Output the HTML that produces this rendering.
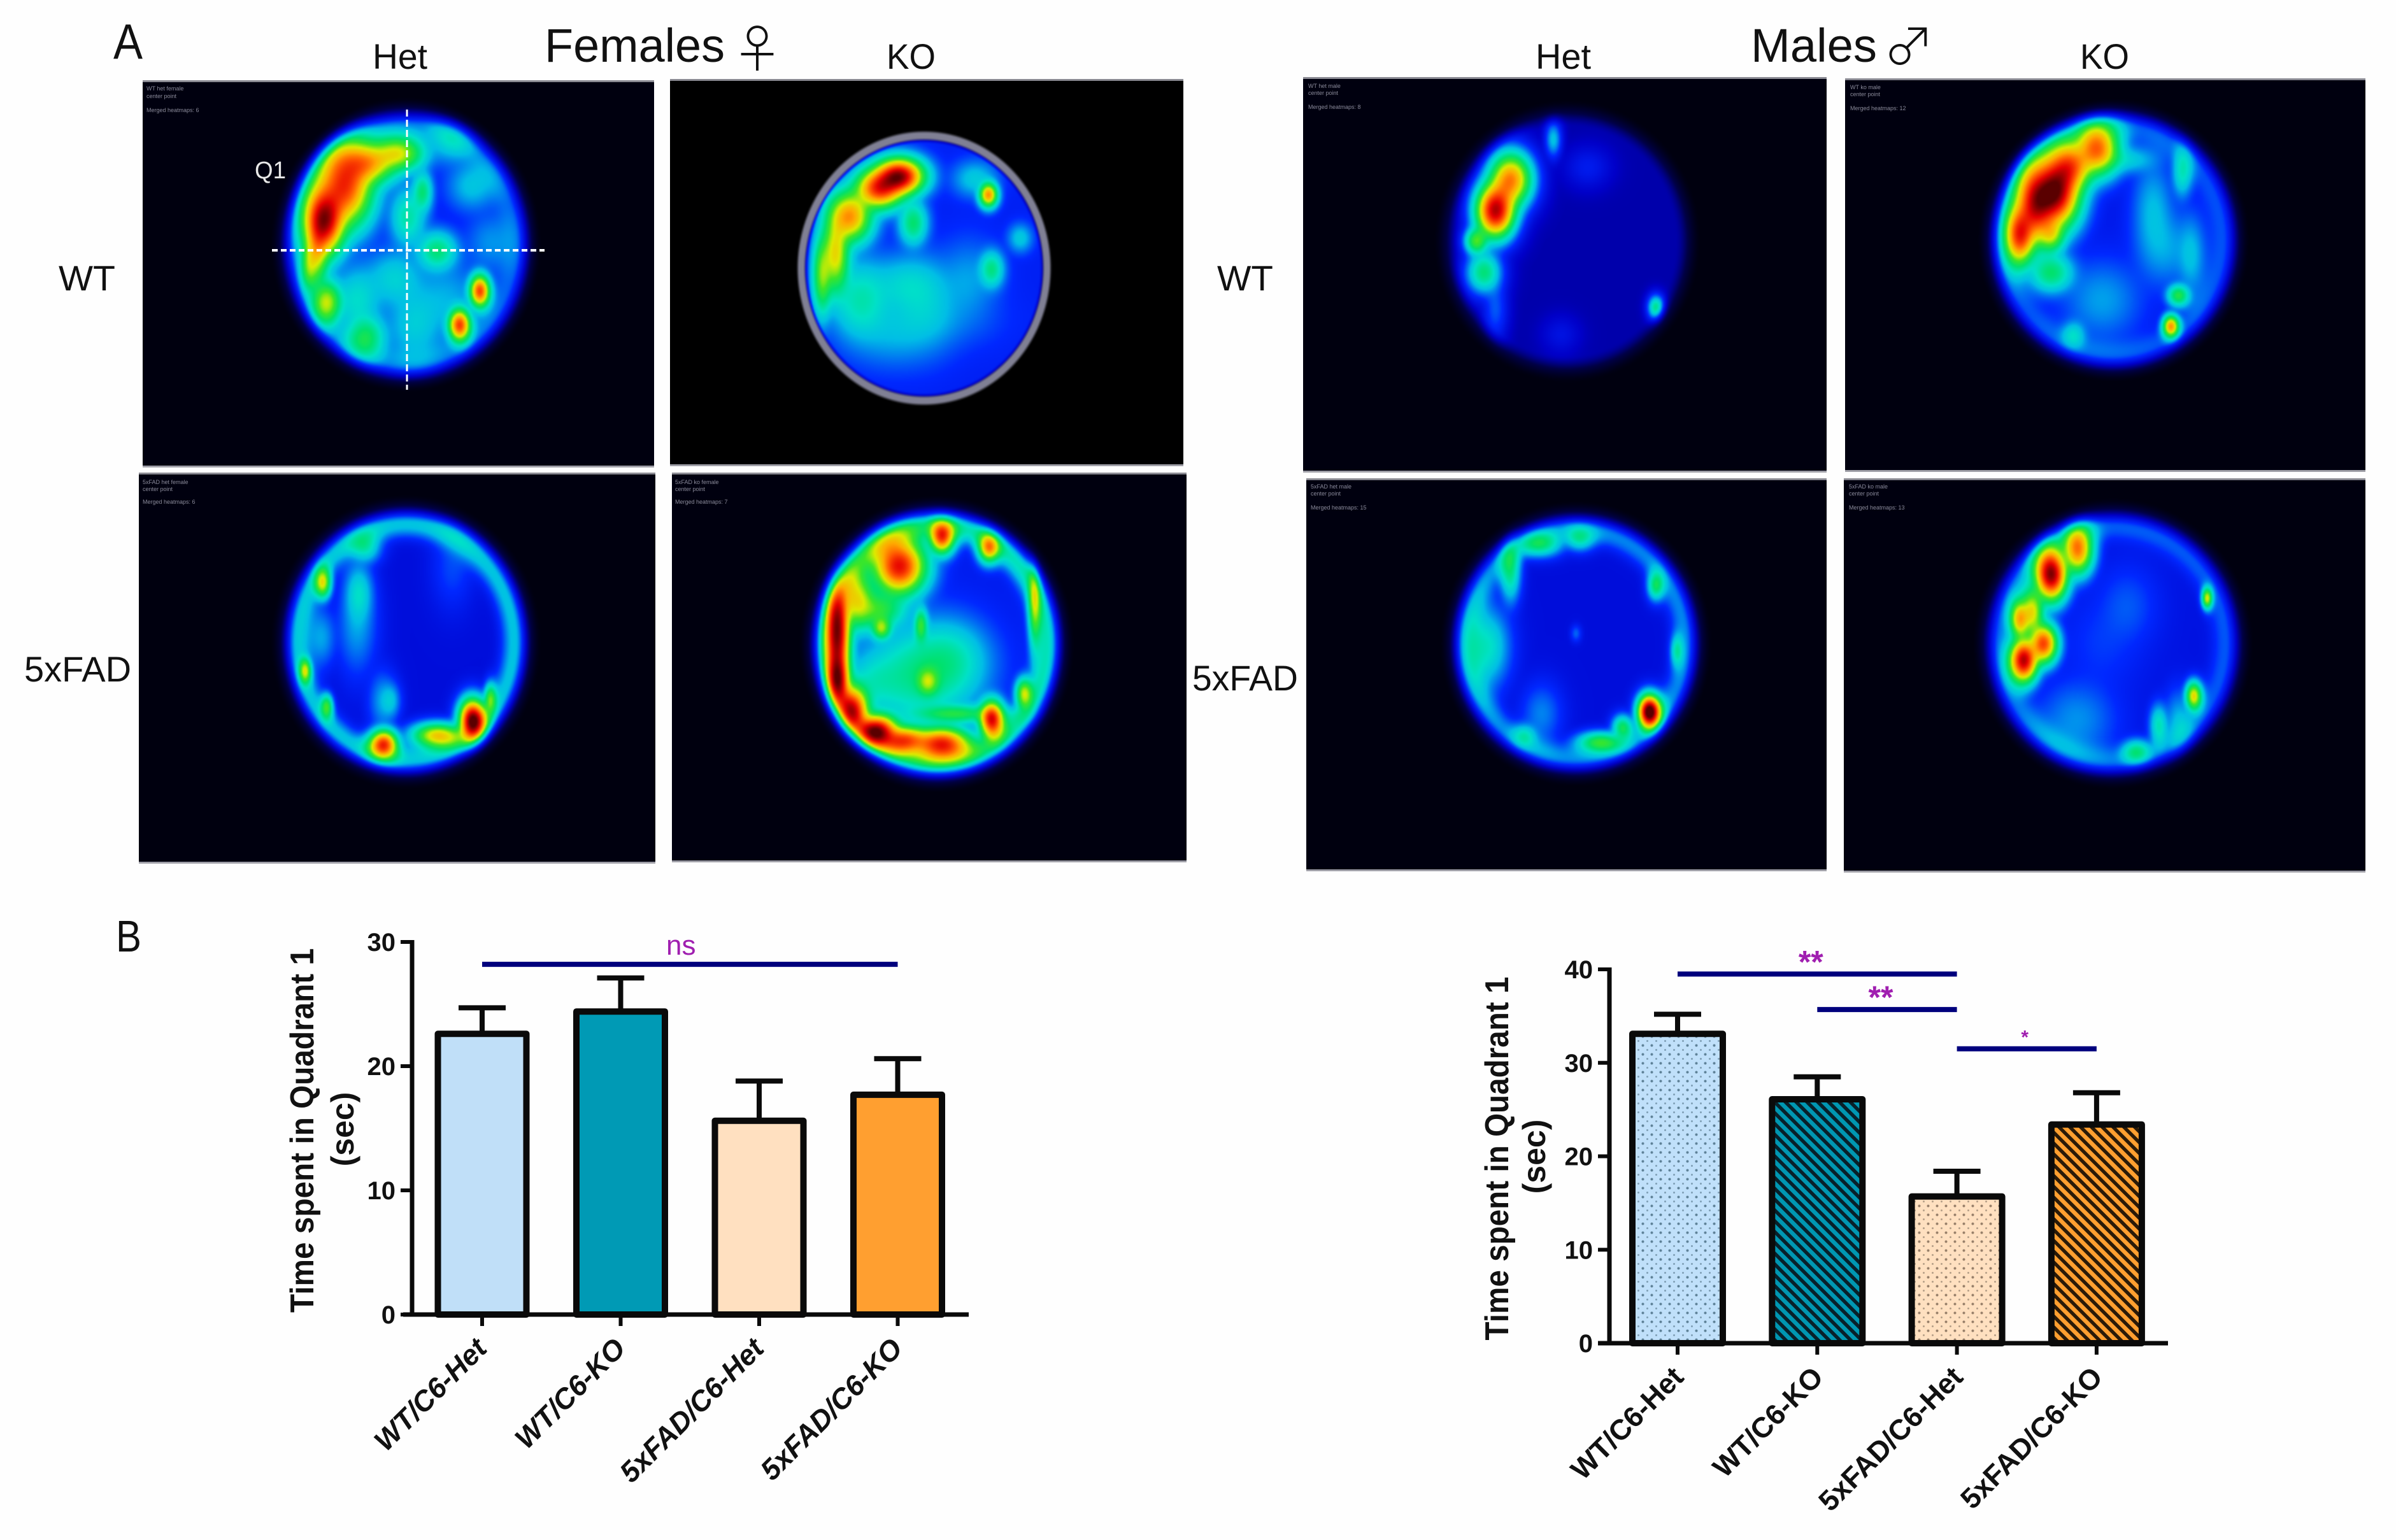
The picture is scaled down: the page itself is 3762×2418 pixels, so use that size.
<!DOCTYPE html>
<html lang="en">
<head>
<meta charset="utf-8">
<title>Heatmaps and time spent in Quadrant 1</title>
<style>
html,body{margin:0;padding:0;background:#fff;}
#page{position:relative;width:3762px;height:2418px;overflow:hidden;background:#fefefe;font-family:"Liberation Sans",sans-serif;}
canvas{position:absolute;display:block;}
#overlay{position:absolute;left:0;top:0;}
.lbl{font-family:"Liberation Sans",sans-serif;fill:#111;}
.tiny{font-family:"Liberation Sans",sans-serif;font-size:9px;fill:#8a8a9a;}
</style>
</head>
<body>
<div id="page">
<canvas id="p1"></canvas>
<canvas id="p2"></canvas>
<canvas id="p3"></canvas>
<canvas id="p4"></canvas>
<canvas id="p5"></canvas>
<canvas id="p6"></canvas>
<canvas id="p7"></canvas>
<canvas id="p8"></canvas>

<svg id="overlay" width="3762" height="2418" viewBox="0 0 3762 2418" xmlns="http://www.w3.org/2000/svg">
<defs>
<pattern id="dotsBlue" width="14" height="14" patternUnits="userSpaceOnUse"><rect width="14" height="14" fill="#c0e0fa"/><circle cx="3.5" cy="3.5" r="2" fill="#5f8298"/><circle cx="10.5" cy="10.5" r="1.5" fill="#7f9fb5"/></pattern>
<pattern id="dotsPeach" width="14" height="14" patternUnits="userSpaceOnUse"><rect width="14" height="14" fill="#ffe0c0"/><circle cx="3.5" cy="3.5" r="2" fill="#98806a"/><circle cx="10.5" cy="10.5" r="1.5" fill="#b59f88"/></pattern>
<pattern id="hatchTeal" width="12" height="12" patternUnits="userSpaceOnUse" patternTransform="rotate(-45)"><rect width="12" height="12" fill="#0097b2"/><rect width="5.5" height="12" fill="#08202a"/></pattern>
<pattern id="hatchOrange" width="12" height="12" patternUnits="userSpaceOnUse" patternTransform="rotate(-45)"><rect width="12" height="12" fill="#ff9f30"/><rect width="5.5" height="12" fill="#2a1a08"/></pattern>
</defs>

<text class="lbl" x="178" y="92" font-size="78" textLength="46" lengthAdjust="spacingAndGlyphs">A</text>
<text class="lbl" x="182" y="1494" font-size="70" textLength="40" lengthAdjust="spacingAndGlyphs">B</text>

<text class="lbl" x="855" y="97" font-size="74" textLength="283" lengthAdjust="spacingAndGlyphs">Females</text>
<text class="lbl" x="1189" y="106" font-size="80" text-anchor="middle" style="font-family:'Noto Sans CJK JP',sans-serif;font-weight:300">♀</text>
<text class="lbl" x="2749" y="97" font-size="74" textLength="198" lengthAdjust="spacingAndGlyphs">Males</text>
<text class="lbl" x="2997" y="102" font-size="80" text-anchor="middle" style="font-family:'Noto Sans CJK JP',sans-serif;font-weight:300">♂</text>

<text class="lbl" x="585" y="108" font-size="56" textLength="86" lengthAdjust="spacingAndGlyphs">Het</text>
<text class="lbl" x="1392" y="108" font-size="56" textLength="77" lengthAdjust="spacingAndGlyphs">KO</text>
<text class="lbl" x="2411" y="108" font-size="56" textLength="87" lengthAdjust="spacingAndGlyphs">Het</text>
<text class="lbl" x="3266" y="108" font-size="56" textLength="77" lengthAdjust="spacingAndGlyphs">KO</text>

<text class="lbl" x="92" y="456" font-size="56" textLength="89" lengthAdjust="spacingAndGlyphs">WT</text>
<text class="lbl" x="38" y="1070" font-size="56" textLength="168" lengthAdjust="spacingAndGlyphs">5xFAD</text>
<text class="lbl" x="1911" y="456" font-size="56" textLength="88" lengthAdjust="spacingAndGlyphs">WT</text>
<text class="lbl" x="1872" y="1084" font-size="56" textLength="166" lengthAdjust="spacingAndGlyphs">5xFAD</text>

<text x="400" y="280" font-size="38" fill="#e8e8e8" font-family="Liberation Sans, sans-serif" textLength="49" lengthAdjust="spacingAndGlyphs">Q1</text>
<line x1="427" y1="393" x2="855" y2="393" stroke="#fff" stroke-width="4" stroke-dasharray="9 5"/>
<line x1="639" y1="172" x2="639" y2="612" stroke="#fff" stroke-width="3" stroke-dasharray="11 5"/>

<g>
<text class="tiny" x="230" y="142">WT het female</text><text class="tiny" x="230" y="154">center point</text><text class="tiny" x="230" y="176">Merged heatmaps: 6</text>
<text class="tiny" x="224" y="760">5xFAD het female</text><text class="tiny" x="224" y="771">center point</text><text class="tiny" x="224" y="791">Merged heatmaps: 6</text>
<text class="tiny" x="1060" y="760">5xFAD ko female</text><text class="tiny" x="1060" y="771">center point</text><text class="tiny" x="1060" y="791">Merged heatmaps: 7</text>
<text class="tiny" x="2054" y="138">WT het male</text><text class="tiny" x="2054" y="149">center point</text><text class="tiny" x="2054" y="171">Merged heatmaps: 8</text>
<text class="tiny" x="2905" y="140">WT ko male</text><text class="tiny" x="2905" y="151">center point</text><text class="tiny" x="2905" y="173">Merged heatmaps: 12</text>
<text class="tiny" x="2058" y="767">5xFAD het male</text><text class="tiny" x="2058" y="778">center point</text><text class="tiny" x="2058" y="800">Merged heatmaps: 15</text>
<text class="tiny" x="2903" y="767">5xFAD ko male</text><text class="tiny" x="2903" y="778">center point</text><text class="tiny" x="2903" y="800">Merged heatmaps: 13</text>
</g>

<g id="chart-female"></g>
<g id="chart-male"></g>

<text class="lbl" transform="translate(492 1775) rotate(-90)" text-anchor="middle" font-size="52" font-weight="700" textLength="572" lengthAdjust="spacingAndGlyphs">Time spent in Quadrant 1</text>
<text class="lbl" transform="translate(555 1773) rotate(-90)" text-anchor="middle" font-size="50" font-weight="700">(sec)</text>
<text class="lbl" transform="translate(2368 1819) rotate(-90)" text-anchor="middle" font-size="52" font-weight="700" textLength="571" lengthAdjust="spacingAndGlyphs">Time spent in Quadrant 1</text>
<text class="lbl" transform="translate(2426 1816) rotate(-90)" text-anchor="middle" font-size="50" font-weight="700">(sec)</text>
</svg>
</div>

<script>
/* ---------- bar chart data ---------- */
var categories = ['WT/C6-Het', 'WT/C6-KO', '5xFAD/C6-Het', '5xFAD/C6-KO'];
var femaleMeans = [22.6, 24.4, 15.6, 17.7];
var femaleErrors = [2.1, 2.7, 3.2, 2.9];
var femaleTicks = [0, 10, 20, 30];
var maleMeans = [33.1, 26.1, 15.7, 23.4];
var maleErrors = [2.1, 2.4, 2.7, 3.4];
var maleTicks = [0, 10, 20, 30, 40];
var femaleSigFrom = [0];
var femaleSigTo = [3];
var femaleSigLevel = [28.2];
var femaleSigLabel = ['ns'];
var maleSigFrom = [0, 1, 2];
var maleSigTo = [2, 2, 3];
var maleSigLevel = [39.5, 35.7, 31.5];
var maleSigLabel = ['**', '**', '*'];

/* ---------- heatmap hot spots: centre x, centre y, spread x, spread y, strength ---------- */
var blobsFemaleWtHet = [[540,290,28,42,.62],[508,345,20,35,.72],[575,255,30,22,.5],[625,240,26,18,.42],[497,395,12,35,.4],[485,417,9,25,.3],[513,473,15,22,.4],[574,528,20,22,.28],[753,456,10,16,.6],[721,509,11,16,.6],[663,300,10,20,.26],[686,393,20,20,.26],[619,436,30,30,.16],[741,291,25,25,.14],[700,470,40,40,.12],[640,340,18,30,.22],[560,470,25,35,.18],[650,510,30,40,.15],[770,380,25,30,.1],[708,218,25,25,.15]];
var blobsFemaleWtKo = [[1411,276,24,18,.72],[1380,295,24,20,.62],[1333,339,22,26,.52],[1311,397,14,40,.44],[1551,305,9,12,.52],[1433,349,14,22,.26],[1556,422,12,18,.24],[1422,446,40,30,.15],[1350,470,30,40,.2],[1601,373,12,14,.14],[1470,500,60,30,.07],[1530,280,22,18,.14],[1450,480,35,45,.13],[1400,520,45,35,.11],[1520,440,30,40,.1],[1290,430,10,40,.36]];
var blobsFemale5xHet = [[574,861,15,15,.2],[507,916,8,15,.38],[563,930,14,30,.2],[479,1052,6,12,.32],[513,1107,6,12,.28],[602,1166,14,14,.6],[741,1128,13,20,.74],[686,1153,25,12,.48],[769,1095,6,15,.3],[613,1099,10,18,.16],[505,1000,14,30,.14],[560,980,20,50,.14],[600,1100,14,30,.14],[710,890,20,40,.08]];
var blobsFemale5xKo = [[1411,888,26,28,.66],[1478,844,12,16,.55],[1551,861,10,14,.42],[1316,973,12,35,.55],[1316,1061,12,30,.6],[1378,1145,20,16,.66],[1478,1166,28,16,.62],[1556,1128,12,18,.66],[1606,1086,8,14,.34],[1383,985,10,12,.38],[1378,956,28,20,.32],[1445,981,7,18,.32],[1456,1069,12,15,.36],[1500,1120,45,10,.3],[1623,951,6,40,.28],[1489,1036,40,40,.2],[1370,1070,30,30,.16],[1440,1060,55,50,.24],[1316,1010,12,30,.5],[1340,1110,16,24,.56],[1420,1160,25,14,.56],[1345,940,18,30,.42]];
var blobsMaleWtHet = [[2347,330,20,28,.78],[2371,281,22,28,.62],[2317,378,12,14,.42],[2329,427,18,22,.34],[2438,218,8,18,.22],[2492,262,22,20,.08],[2599,482,8,12,.32],[2347,485,12,30,.14],[2450,525,18,18,.06]];
var blobsMaleWtKo = [[3226,300,24,36,.76],[3292,233,22,26,.58],[3171,368,15,30,.62],[3220,368,14,18,.38],[3220,427,22,20,.28],[3408,511,8,11,.5],[3420,463,11,11,.32],[3426,271,10,24,.2],[3401,388,30,40,.12],[3256,523,12,14,.16],[3340,250,30,14,.16],[3250,260,22,26,.56],[3195,320,20,40,.66],[3380,330,20,50,.14],[3440,400,14,40,.14],[3300,470,40,40,.12]];
var blobsMale5xHet = [[2589,1116,11,16,.8],[2511,1164,22,10,.32],[2547,1141,10,12,.3],[2371,897,10,30,.26],[2420,855,20,12,.24],[2480,846,14,12,.2],[2599,920,8,14,.27],[2335,1015,22,40,.22],[2632,1021,6,15,.18],[2474,994,5,8,.1],[2395,1153,12,12,.16],[2420,1120,20,30,.12]];
var blobsMale5xKo = [[3220,901,16,26,.76],[3262,863,15,24,.56],[3177,1036,14,22,.72],[3208,1010,14,20,.62],[3171,972,10,20,.5],[3444,1092,8,14,.46],[3465,939,5,10,.4],[3389,1137,9,20,.22],[3353,1179,14,12,.22],[3300,1010,40,50,.06],[3190,960,12,25,.46],[3260,1130,40,40,.12],[3340,950,30,40,.08],[3420,1130,14,30,.14]];

var heatmapPanels = {
  p1:{x:224,y:129,w:803,h:602,cx:637,cy:383,rx:195,ry:212,base:.23,ring:.05,blobs:blobsFemaleWtHet},
  p2:{x:1052,y:127,w:806,h:602,cx:1450,cy:420,rx:190,ry:205,base:.24,ring:0,halo:true,blobs:blobsFemaleWtKo},
  p3:{x:218,y:745,w:811,h:608,cx:637,cy:1007,rx:195,ry:212,base:.2,ring:.17,blobs:blobsFemale5xHet},
  p4:{x:1055,y:745,w:808,h:606,cx:1470,cy:1010,rx:198,ry:214,base:.23,ring:.2,blobs:blobsFemale5xKo},
  p5:{x:2046,y:124,w:822,h:615,cx:2460,cy:378,rx:192,ry:204,base:.15,ring:0,blobs:blobsMaleWtHet},
  p6:{x:2897,y:126,w:817,h:612,cx:3318,cy:376,rx:196,ry:204,base:.22,ring:.06,blobs:blobsMaleWtKo},
  p7:{x:2051,y:754,w:817,h:611,cx:2474,cy:1010,rx:196,ry:206,base:.2,ring:.12,blobs:blobsMale5xHet},
  p8:{x:2895,y:754,w:819,h:613,cx:3317,cy:1010,rx:202,ry:210,base:.21,ring:.08,blobs:blobsMale5xKo}
};

var colorStops = [[0,0,0,15],[.08,0,0,70],[.17,0,0,200],[.26,0,40,255],[.36,0,190,230],[.42,0,225,200],[.5,0,225,110],[.58,60,230,40],[.66,220,235,0],[.74,255,170,0],[.82,255,80,0],[.9,230,0,0],[1,90,0,0]];

function colorAt(v){
  if(v<=0) return colorStops[0];
  if(v>=1) return colorStops[colorStops.length-1];
  for(var i=1;i<colorStops.length;i++){
    if(v<=colorStops[i][0]){
      var a=colorStops[i-1],b=colorStops[i],t=(v-a[0])/(b[0]-a[0]);
      return [v,a[1]+(b[1]-a[1])*t,a[2]+(b[2]-a[2])*t,a[3]+(b[3]-a[3])*t];
    }
  }
}
function sstep(t){t=t<0?0:t>1?1:t;return t*t*(3-2*t);}

var spreadFactor=1.22, blendPower=2.2;

function drawHeatmap(id){
  var p=heatmapPanels[id],c=document.getElementById(id),scale=2;
  var W=Math.ceil(p.w/scale),H=Math.ceil(p.h/scale);
  c.width=W;c.height=H;
  c.style.left=p.x+'px';c.style.top=p.y+'px';c.style.width=p.w+'px';c.style.height=p.h+'px';
  c.style.borderTop='3px solid #8a8a92';c.style.borderBottom='3px solid #a0a0a8';c.style.marginTop='-3px';
  var g=c.getContext('2d'),img=g.createImageData(W,H),d=img.data,n=0;
  for(var j=0;j<H;j++){
    var py=p.y+j*scale;
    for(var i=0;i<W;i++){
      var px=p.x+i*scale;
      var dx=(px-p.cx)/p.rx,dy=(py-p.cy)/p.ry,r=Math.sqrt(dx*dx+dy*dy);
      var env=p.halo?sstep((1.02-r)/.07):sstep((1.1-r)/.22);
      var v=0;
      if(env>0){
        var sum=0;
        for(var b=0;b<p.blobs.length;b++){
          var k=p.blobs[b],ex=(px-k[0])/(k[2]*spreadFactor),ey=(py-k[1])/(k[3]*spreadFactor),q=ex*ex+ey*ey;
          if(q<12) sum+=Math.pow(k[4]*Math.exp(-q/2),blendPower);
        }
        var rd=(r-.87)/.1;
        v=p.base+p.ring*Math.exp(-rd*rd)+Math.pow(sum,1/blendPower);
        v*=env;
      }
      var col=colorAt(v),R=col[1],G=col[2],B=col[3];
      if(p.halo){
        if(v<.01){B=0;}
        var hal=sstep((r-.97)/.03)*sstep((1.06-r)/.03);
        R=R+(128-R)*hal;G=G+(128-G)*hal;B=B+(148-B)*hal;
      }
      d[n++]=R;d[n++]=G;d[n++]=B;d[n++]=255;
    }
  }
  g.putImageData(img,0,0);
}
Object.keys(heatmapPanels).forEach(drawHeatmap);

/* ---------- bar charts ---------- */
var NS='http://www.w3.org/2000/svg';
function svgEl(tag,attrs,parent){
  var el=document.createElementNS(NS,tag);
  for(var k in attrs){el.setAttribute(k,attrs[k]);}
  parent.appendChild(el);
  return el;
}

function drawChart(o){
  var root=document.getElementById(o.id);
  function yScale(v){return o.y0-(v/o.yMax)*(o.y0-o.yTop);}
  function xScale(i){return o.xFirst+i*o.band;}
  var stroke='#0a0a0a';

  var yAxis=svgEl('line',{x1:o.axisX,y1:yScale(o.yMax)-3,x2:o.axisX,y2:o.y0+3,stroke:stroke,'stroke-width':7},root);
  
  

  o.ticks.forEach(function(t){
    var tick=svgEl('line',{x1:o.axisX-18,y1:yScale(t),x2:o.axisX,y2:yScale(t),stroke:stroke,'stroke-width':6},root);
    
    
    var label=svgEl('text',{x:o.axisX-26,y:yScale(t)+14,'text-anchor':'end','font-size':40,'font-weight':700,fill:'#111','font-family':'Liberation Sans, sans-serif'},root);
    label.textContent=String(t);
    
    
  });

  categories.forEach(function(cat,i){
    var cx=xScale(i),top=yScale(o.means[i]),errTop=yScale(o.means[i]+o.errors[i]);
    var stem=svgEl('line',{x1:cx,y1:top,x2:cx,y2:errTop,stroke:stroke,'stroke-width':8},root);
    
    
    var cap=svgEl('line',{x1:cx-37,y1:errTop,x2:cx+37,y2:errTop,stroke:stroke,'stroke-width':8},root);
    
    
    var bar=svgEl('rect',{x:cx-o.barW/2,y:top,width:o.barW,height:o.y0-top,fill:o.fills[i],stroke:stroke,'stroke-width':10,'stroke-linejoin':'round'},root);
    
    
    var tk=svgEl('line',{x1:cx,y1:o.y0,x2:cx,y2:o.y0+18,stroke:stroke,'stroke-width':6},root);
    
    
    var ex=cx+o.labelDx,ey=o.labelY;
    var label=svgEl('text',{x:ex,y:ey,'text-anchor':'end','font-size':45,'font-weight':700,'font-style':o.labelStyle,fill:'#111','font-family':'Liberation Sans, sans-serif',transform:'rotate(-45 '+ex+' '+ey+')'},root);
    label.textContent=cat;
    
    
  });

  var xAxis=svgEl('line',{x1:o.xAxisFrom,y1:o.y0,x2:o.xAxisTo,y2:o.y0,stroke:stroke,'stroke-width':7},root);
  
  

  o.sigFrom.forEach(function(from,s){
    var x1=xScale(from),x2=xScale(o.sigTo[s]),y=yScale(o.sigLevel[s]);
    var line=svgEl('line',{x1:x1,y1:y,x2:x2,y2:y,stroke:'#00007d','stroke-width':8},root);
    
    
    var isNs=o.sigLabel[s]==='ns';
    var single=o.sigLabel[s].length===1;
    var t=svgEl('text',{x:(x1+x2)/2-(isNs?14:(single?3:10)),y:y+(isNs?-15:(single?-8:-2)),'text-anchor':'middle','font-size':isNs?44:(single?30:50),'font-weight':isNs?400:700,fill:'#a01fb0','font-family':'Liberation Sans, sans-serif'},root);
    t.textContent=o.sigLabel[s];
    
    
  });
}

drawChart({id:'chart-female',y0:2064,yTop:1479,yMax:30,axisX:647,xFirst:757,band:217.5,barW:139,
  means:femaleMeans,errors:femaleErrors,ticks:femaleTicks,
  fills:['#c0dff8','#009ab5','#ffe0c0','#ff9f30'],
  labelDx:10,labelY:2120,labelStyle:'italic',xAxisFrom:633,xAxisTo:1521,
  sigFrom:femaleSigFrom,sigTo:femaleSigTo,sigLevel:femaleSigLevel,sigLabel:femaleSigLabel});

drawChart({id:'chart-male',y0:2109,yTop:1522,yMax:40,axisX:2527,xFirst:2634,band:219.3,barW:142,
  means:maleMeans,errors:maleErrors,ticks:maleTicks,
  fills:['url(#dotsBlue)','url(#hatchTeal)','url(#dotsPeach)','url(#hatchOrange)'],
  labelDx:12,labelY:2165,labelStyle:'normal',xAxisFrom:2509,xAxisTo:3404,
  sigFrom:maleSigFrom,sigTo:maleSigTo,sigLevel:maleSigLevel,sigLabel:maleSigLabel});
</script>
</body>
</html>
